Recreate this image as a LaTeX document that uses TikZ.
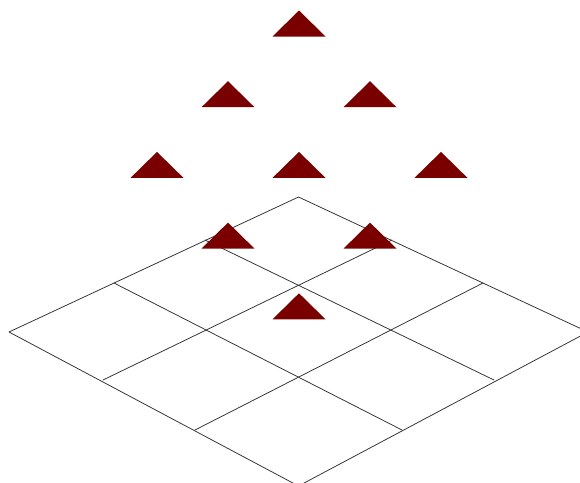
\documentclass[tikz,border=0pt]{standalone}
\usepackage{tikz}
\usetikzlibrary{calc}
\definecolor{granate}{HTML}{7A0000}
\definecolor{grafito}{HTML}{333333}
\tikzset{
  every picture/.style={line join=round, line cap=round},
  rejilla/.style={draw=grafito, line width=0.55pt},
  marca/.style={fill=granate, draw=none},
}

\begin{document}
\begin{tikzpicture}[x=0.025cm, y=-0.025cm]
  \clip (0,0) rectangle (580,482);
  % esquinas del tablero
  \coordinate (T) at (298.5,197);
  \coordinate (L) at (9,332);
  \coordinate (R) at (588,332);
  \coordinate (B) at (298.5,486);
  % divisiones de los bordes
  \coordinate (TL1) at (205,240);  \coordinate (TL2) at (114,283);
  \coordinate (TR1) at (392,240);  \coordinate (TR2) at (483,283);
  \coordinate (LB1) at (103,380);  \coordinate (LB2) at (195,430);
  \coordinate (RB1) at (494,380);  \coordinate (RB2) at (402,430);
  \draw[rejilla] (T) -- (R) -- (B) -- (L) -- cycle;
  \draw[rejilla] (TL1) -- (RB1); \draw[rejilla] (TL2) -- (RB2);
  \draw[rejilla] (TR1) -- (LB1); \draw[rejilla] (TR2) -- (LB2);
  % piramide de marcas
  \foreach \a in {0,1,2} {
    \foreach \b in {0,1,2} {
      \fill[marca] ({299+71*(\a-\b)},{10.5+70.7*(\a+\b)})
        -- ++(26.5,26) -- ++(-53,0) -- cycle;
    }
  }
\end{tikzpicture}
\end{document}
